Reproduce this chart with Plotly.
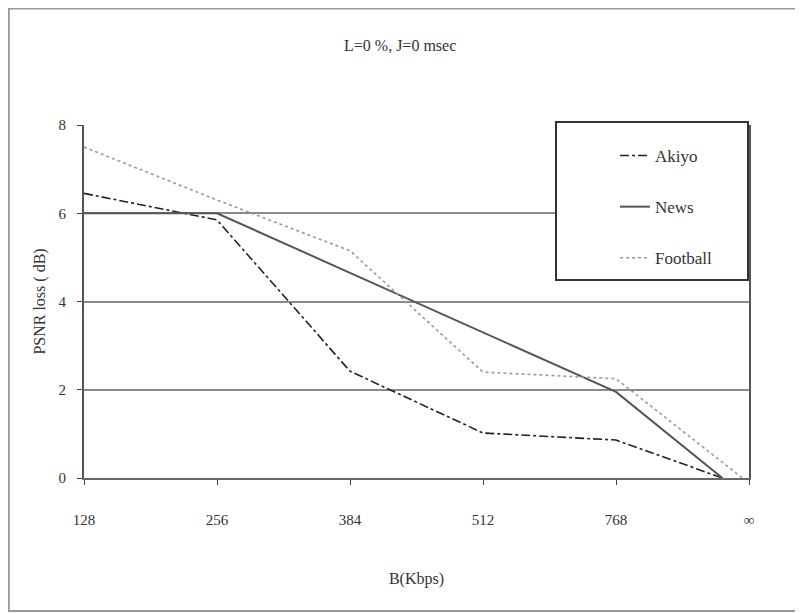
import plotly.graph_objects as go

# Category labels on the x axis (equally spaced positions 0..5)
tick_labels = ["128", "256", "384", "512", "768", "∞"]
tick_pos = [0, 1, 2, 3, 4, 5]

# Series (x in category-index units, y = PSNR loss in dB)
akiyo_x = [0, 1, 2, 3, 4, 4.8]
akiyo_y = [6.45, 5.85, 2.42, 1.02, 0.86, 0.0]

news_x = [0, 1, 2, 3, 4, 4.8]
news_y = [6.0, 6.0, 4.65, 3.3, 1.95, 0.0]

football_x = [0, 1, 2, 3, 4, 4.95]
football_y = [7.5, 6.3, 5.15, 2.4, 2.25, 0.0]

y_ticks = [0, 2, 4, 6, 8]

FONT = "Liberation Serif"
W, H = 795, 605  # page body has an 8px margin


def px(x):
    return (x - 8) / W


def py(y):
    return 1 - (y - 8) / H


fig = go.Figure()
fig.add_trace(go.Scatter(x=akiyo_x, y=akiyo_y, mode="lines", name="Akiyo", legendgroup="a",
                         line=dict(color="#222222", width=1.6, dash="dashdot")))
fig.add_trace(go.Scatter(x=news_x, y=news_y, mode="lines", name="News", legendgroup="n",
                         line=dict(color="#555555", width=2)))
fig.add_trace(go.Scatter(x=football_x, y=football_y, mode="lines", name="Football", legendgroup="f",
                         line=dict(color="#999999", width=1.6, dash="dot")))

fig.update_layout(
    width=W, height=H,
    margin=dict(l=0, r=0, t=0, b=0),
    paper_bgcolor="white", plot_bgcolor="white",
    font=dict(family=FONT, size=15, color="#333333"),
    showlegend=True,
    legend=dict(
        x=px(615), xanchor="left", y=py(138), yanchor="top",
        bgcolor="rgba(0,0,0,0)", borderwidth=0,
        font=dict(family=FONT, size=17, color="#333333"),
        tracegroupgap=26, traceorder="grouped",
    ),
    xaxis=dict(
        domain=[px(84), px(749)],
        range=[0, 5], automargin=False,
        tickmode="array", tickvals=tick_pos, ticktext=tick_labels,
        ticks="outside", ticklen=5, tickcolor="#444444",
        ticklabelstandoff=22,
        showgrid=False, zeroline=False,
        showline=True, linecolor="#666666", linewidth=2,
        title=dict(text="B(Kbps)", standoff=46, font=dict(family=FONT, size=16)),
        tickfont=dict(family=FONT, size=15),
    ),
    yaxis=dict(
        domain=[py(478), py(125)],
        range=[0, 8], automargin=False,
        tickmode="array", tickvals=y_ticks,
        ticks="outside", ticklen=5, tickcolor="#444444",
        ticklabelstandoff=8,
        showgrid=True, gridcolor="#8a8a8a", gridwidth=2,
        zeroline=False,
        showline=True, linecolor="#555555", linewidth=2, mirror=True,
        title=dict(text="PSNR loss ( dB)", standoff=9, font=dict(family=FONT, size=16)),
        tickfont=dict(family=FONT, size=15),
    ),
    annotations=[dict(
        text="L=0 %, J=0 msec", xref="paper", yref="paper",
        x=px(400), y=py(45), xanchor="center", yanchor="middle",
        showarrow=False, font=dict(family=FONT, size=16, color="#333333"),
    )],
    shapes=[
        dict(type="rect", xref="paper", yref="paper",
             x0=0.001, x1=1.02, y0=py(611), y1=0.999,
             line=dict(color="#999999", width=2)),
        dict(type="rect", xref="paper", yref="paper", layer="above",
             x0=px(556), x1=px(748), y0=py(280), y1=py(122),
             fillcolor="white", line=dict(color="#333333", width=2)),
    ],
)

fig.write_html("out.html")
